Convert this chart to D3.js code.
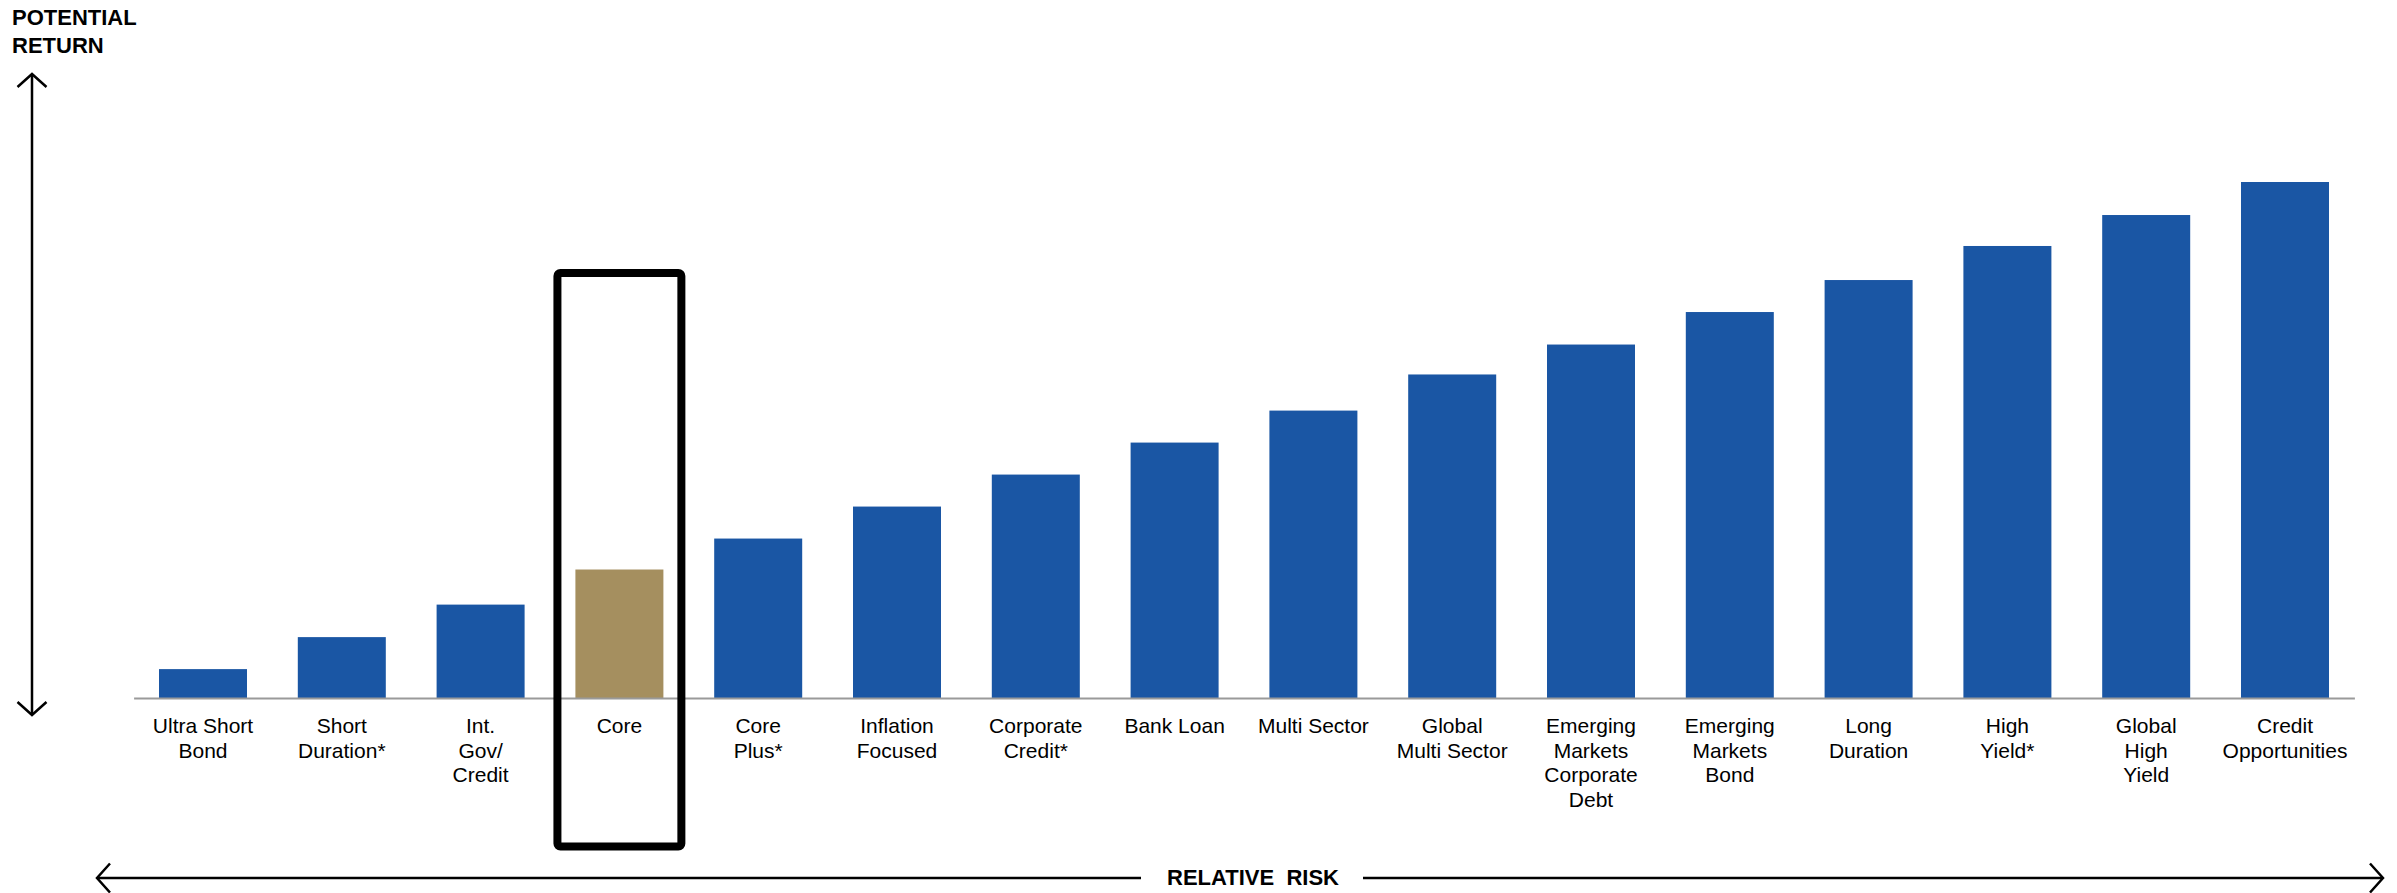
<!DOCTYPE html>
<html>
<head>
<meta charset="utf-8">
<script src="https://cdn.jsdelivr.net/npm/d3@7"></script>
<style>
  body { margin: 0; background: #fff; }
  svg { display: block; font-family: "Liberation Sans", Arial, sans-serif; }
</style>
</head>
<body>
<section></section>
<script>
// strategies, ordered by relative risk
var categories = [
  ["Ultra Short", "Bond"],
  ["Short", "Duration*"],
  ["Int.", "Gov/", "Credit"],
  ["Core"],
  ["Core", "Plus*"],
  ["Inflation", "Focused"],
  ["Corporate", "Credit*"],
  ["Bank Loan"],
  ["Multi Sector"],
  ["Global", "Multi Sector"],
  ["Emerging", "Markets", "Corporate", "Debt"],
  ["Emerging", "Markets", "Bond"],
  ["Long", "Duration"],
  ["High", "Yield*"],
  ["Global", "High", "Yield"],
  ["Credit", "Opportunities"]
];
// potential return (relative units)
var values = [0.56, 1.18, 1.81, 2.49, 3.09, 3.71, 4.33, 4.95, 5.57, 6.27, 6.85, 7.48, 8.10, 8.76, 9.36, 10.0];
var highlighted = ["Core"];

var width = 2397, height = 893;
var base = 698;

var svg = d3.select("section").append("svg")
  .attr("width", width)
  .attr("height", height);

var keys = categories.map(function(d) { return d.join(" "); });

var x = d3.scaleBand()
  .domain(keys)
  .range([133.6, 2354.4])
  .paddingInner(0.366)
  .paddingOuter(0.183);

var y = d3.scaleLinear()
  .domain([0, 10])
  .range([base, 182]);

// bars
svg.selectAll(".bar")
  .data(values)
  .enter().append("rect")
  .attr("class", "bar")
  .attr("x", function(d, i) { return x(keys[i]); })
  .attr("y", function(d) { return y(d); })
  .attr("width", x.bandwidth())
  .attr("height", function(d) { return base - y(d); })
  .attr("fill", function(d, i) {
    return highlighted.indexOf(keys[i]) >= 0 ? "#a58f5f" : "#1a56a4";
  });

// category axis
var axis = svg.append("g")
  .attr("transform", "translate(0," + base + ")")
  .call(d3.axisBottom(x).tickSize(0).tickSizeOuter(0).tickFormat(""));

axis.select(".domain")
  .attr("stroke", "#9a9a9a")
  .attr("stroke-width", 2);

axis.selectAll(".tick text").remove();
axis.selectAll(".tick").each(function(k, i) {
  var t = d3.select(this).append("text")
    .attr("fill", "#000")
    .attr("text-anchor", "middle")
    .style("font-size", "21px");
  categories[i].forEach(function(line, j) {
    t.append("tspan")
      .attr("x", 0)
      .attr("y", 35 + j * 24.5)
      .text(line);
  });
});

// highlight box around Core
highlighted.forEach(function(k) {
  var cx = x(k) + x.bandwidth() / 2;
  var bw = x.step() * 0.893;
  svg.append("rect")
    .attr("x", cx - bw / 2)
    .attr("y", 273)
    .attr("width", bw)
    .attr("height", 846.5 - 273)
    .attr("rx", 3)
    .attr("fill", "none")
    .attr("stroke", "#000")
    .attr("stroke-width", 8);
});

// arrows
function chevron(tx, ty, dx, dy) {
  // open arrow head, tip at (tx,ty), pointing along (dx,dy)
  var a = 14.5, b = 13;
  var px = -dy, py = dx;
  return "M" + (tx - dx * b + px * a) + "," + (ty - dy * b + py * a) +
    "L" + tx + "," + ty +
    "L" + (tx - dx * b - px * a) + "," + (ty - dy * b - py * a);
}

var arrows = svg.append("g")
  .attr("fill", "none")
  .attr("stroke", "#000")
  .attr("stroke-width", 2.5);

// vertical: potential return
arrows.append("line").attr("x1", 32).attr("x2", 32).attr("y1", 74).attr("y2", 715);
arrows.append("path").attr("d", chevron(32, 74, 0, -1));
arrows.append("path").attr("d", chevron(32, 715, 0, 1));

// horizontal: relative risk
var ry = 878;
arrows.append("line").attr("x1", 97).attr("x2", 1141).attr("y1", ry).attr("y2", ry);
arrows.append("line").attr("x1", 1363).attr("x2", 2383).attr("y1", ry).attr("y2", ry);
arrows.append("path").attr("d", chevron(97, ry, -1, 0));
arrows.append("path").attr("d", chevron(2383, ry, 1, 0));

svg.append("text")
  .attr("x", 1253)
  .attr("y", 885)
  .attr("text-anchor", "middle")
  .style("font-size", "22px")
  .style("font-weight", "bold")
  .style("white-space", "pre")
  .text("RELATIVE  RISK");

var title = svg.append("text")
  .style("font-size", "22px")
  .style("font-weight", "bold");
title.append("tspan").attr("x", 12).attr("y", 25).text("POTENTIAL");
title.append("tspan").attr("x", 12).attr("y", 53).text("RETURN");
</script>
</body>
</html>
